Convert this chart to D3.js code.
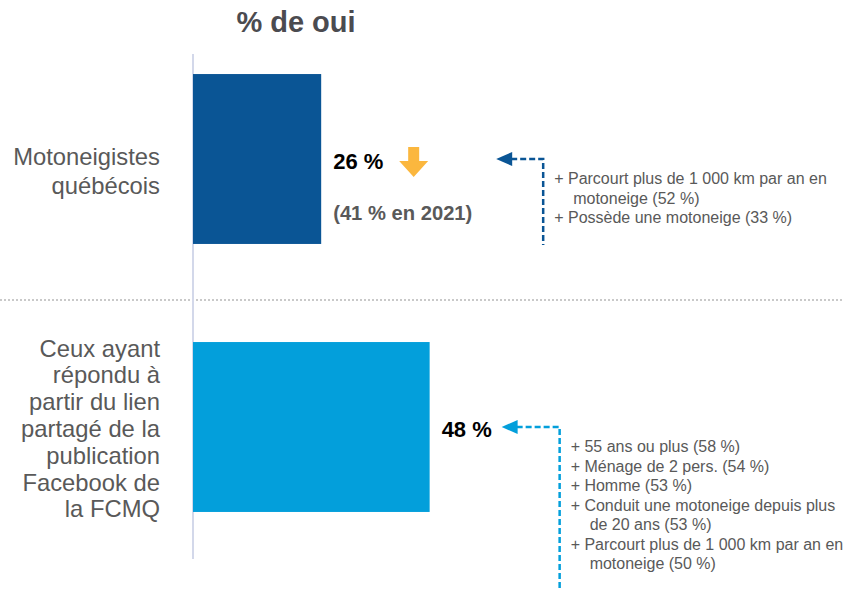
<!DOCTYPE html>
<html lang="fr">
<head>
<meta charset="utf-8">
<script src="https://cdn.jsdelivr.net/npm/d3@7"></script>
<style>
    html, body { margin: 0; padding: 0; background: #ffffff; }
    svg { display: block; font-family: "Liberation Sans", Arial, sans-serif; }
</style>
</head>
<body>
<svg id="chart"></svg>
<script>
"use strict";

// chart data
const title = "% de oui";
const categories = ["Motoneigistes québécois", "Ceux ayant répondu à partir du lien partagé de la publication Facebook de la FCMQ"];
const categoryLines = [
    ["Motoneigistes", "québécois"],
    ["Ceux ayant", "répondu à", "partir du lien", "partagé de la", "publication", "Facebook de", "la FCMQ"]
];
const values = [26, 48];
const previousLabels = ["(41 % en 2021)", null];
const trendDown = [true, false];
const notes = [
    [["Parcourt plus de 1 000 km par an en", "motoneige (52 %)"], ["Possède une motoneige (33 %)"]],
    [["55 ans ou plus (58 %)"], ["Ménage de 2 pers. (54 %)"], ["Homme (53 %)"],
     ["Conduit une motoneige depuis plus", "de 20 ans (53 %)"],
     ["Parcourt plus de 1 000 km par an en", "motoneige (50 %)"]]
];

const width = 843;
const height = 591;
const barColors = ["#0a5595", "#039fdb"];
const grey = "#595959";
// where each callout arrow starts, measured from the end of its bar
const calloutOffset = [175, 72];
const calloutRun = [47, 58];

const svg = d3.select("#chart")
    .attr("width", width)
    .attr("height", height);

const x = d3.scaleLinear().domain([0, 100]).range([193, 686]);
const y = d3.scaleBand()
    .domain(categories)
    .range([25, 561])
    .paddingInner(0.366)
    .paddingOuter(0.183);

// title
svg.append("text")
    .attr("x", 296)
    .attr("y", 32)
    .attr("text-anchor", "middle")
    .style("font-size", "29px")
    .style("font-weight", "bold")
    .style("fill", "#4b4b50")
    .text(title);

// dotted separator between the two groups
svg.append("line")
    .attr("x1", 0).attr("x2", width)
    .attr("y1", y(categories[1]) - 42).attr("y2", y(categories[1]) - 42)
    .attr("stroke", "#c9c9c9")
    .attr("stroke-width", 2)
    .attr("stroke-dasharray", "2,2");

// vertical baseline
svg.append("line")
    .attr("x1", x(0)).attr("x2", x(0))
    .attr("y1", 54).attr("y2", 559)
    .attr("stroke", "#d3d8ea")
    .attr("stroke-width", 2);

// bars
svg.selectAll(".bar")
    .data(values)
    .enter()
    .append("rect")
    .attr("class", "bar")
    .attr("x", x(0))
    .attr("y", (d, i) => y(categories[i]))
    .attr("width", d => x(d) - x(0))
    .attr("height", y.bandwidth())
    .attr("fill", (d, i) => barColors[i]);

// category labels, right aligned
const lh = 27.5;
categoryLines.forEach((lines, i) => {
    let cy = y(categories[i]) + y.bandwidth() / 2;
    let first = cy - (lines.length - 1) * lh / 2 + 8 + (lines.length < 3 ? 12 : 4);
    let t = svg.append("text")
        .attr("text-anchor", "end")
        .style("font-size", "23.8px")
        .style("fill", grey);
    lines.forEach((ln, j) => {
        t.append("tspan")
            .attr("x", 160)
            .attr("y", first + j * (lines.length < 3 ? 29 : 26.8))
            .text(ln);
    });
});

// value labels
values.forEach((v, i) => {
    let cy = y(categories[i]) + y.bandwidth() / 2;
    svg.append("text")
        .attr("x", x(v) + 12)
        .attr("y", cy + 10)
        .style("font-size", "22px")
        .style("font-weight", "bold")
        .style("fill", "#000")
        .text(v + " %");

    if (trendDown[i]) {
        // orange down arrow
        let ax = x(v) + 78, ay = cy - 12;
        svg.append("path")
            .attr("d", `M${ax + 9},${ay} h11 v14 h9 l-14.5,16 l-14.5,-16 h9 z`)
            .attr("fill", "#fbb73e");
    }
    if (previousLabels[i]) {
        svg.append("text")
            .attr("x", x(v) + 12)
            .attr("y", cy + 61)
            .style("font-size", "20.2px")
            .style("font-weight", "bold")
            .style("fill", grey)
            .text(previousLabels[i]);
    }
});

// callouts: dashed elbow arrow + list of notes
const nlh = 19.5;
notes.forEach((items, i) => {
    let cy = y(categories[i]) + y.bandwidth() / 2;
    let tipX = x(values[i]) + calloutOffset[i];
    let vx = tipX + calloutRun[i];
    let nLines = d3.sum(items, d => d.length);
    let firstBase = cy + 25;
    let bottom = firstBase + (nLines - 1) * nlh + 22;
    let col = barColors[i];

    svg.append("path")
        .attr("d", `M${tipX + 15},${cy} H${vx} V${bottom}`)
        .attr("fill", "none")
        .attr("stroke", col)
        .attr("stroke-width", 2.5)
        .attr("stroke-dasharray", "6,3");

    svg.append("path")
        .attr("d", `M${tipX},${cy} L${tipX + 16},${cy - 7} L${tipX + 16},${cy + 7} Z`)
        .attr("fill", col);

    let t = svg.append("text")
        .style("font-size", "16px")
        .style("fill", grey);
    let k = 0;
    items.forEach(item => {
        item.forEach((ln, j) => {
            t.append("tspan")
                .attr("x", j === 0 ? vx + 11 : vx + 30)
                .attr("y", firstBase + k * nlh)
                .text(j === 0 ? "+ " + ln : ln);
            k++;
        });
    });
});
</script>
</body>
</html>
